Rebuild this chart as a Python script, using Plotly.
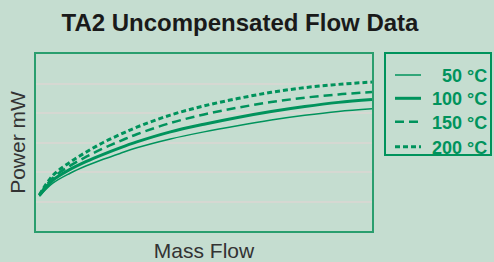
import plotly.graph_objects as go

# ---- data ----
mass_flow = [0.1, 0.5, 1, 1.5, 2, 2.5, 3, 4, 5, 6, 7, 8, 9, 10]
power_50 = [1.18, 1.62, 1.95, 2.21, 2.43, 2.63, 2.82, 3.12, 3.36, 3.57, 3.76, 3.92, 4.05, 4.14]
power_100 = [1.20, 1.72, 2.08, 2.36, 2.60, 2.82, 3.02, 3.36, 3.62, 3.85, 4.05, 4.22, 4.36, 4.46]
power_150 = [1.22, 1.80, 2.20, 2.52, 2.80, 3.05, 3.28, 3.66, 3.95, 4.18, 4.37, 4.52, 4.63, 4.71]
power_200 = [1.22, 1.88, 2.32, 2.68, 3.00, 3.27, 3.52, 3.93, 4.24, 4.49, 4.70, 4.86, 4.97, 5.05]
series_names = ["50 °C", "100 °C", "150 °C", "200 °C"]

GREEN = "#00935c"
BG = "#c5ddd0"
FONT = "Liberation Sans, Arial, sans-serif"

styles = [
    dict(width=1.5, dash="solid"),
    dict(width=3, dash="solid"),
    dict(width=2.5, dash="9px,5px"),
    dict(width=3, dash="5px,3px"),
]
values = [power_50, power_100, power_150, power_200]

fig = go.Figure()
for name, ys, st in zip(series_names, values, styles):
    fig.add_trace(go.Scatter(
        x=mass_flow, y=ys, name=name, mode="lines",
        line=dict(color=GREEN, width=st["width"], dash=st["dash"], shape="spline",
                  smoothing=1.0),
        showlegend=False,
    ))

W, H = 494, 262
L, R, T, B = 36, 372, 54, 231


def px(xp):
    return (xp - L) / (R - L)


def py(yp):
    return (B - yp) / (B - T)


shapes = []
annotations = []
# manual legend box
shapes.append(dict(type="rect", xref="paper", yref="paper",
                   x0=px(385), x1=px(491), y0=py(155), y1=py(53),
                   line=dict(color=GREEN, width=2), fillcolor="rgba(0,0,0,0)"))
row_y = [75, 98.3, 121.7, 146.7]
for name, st, yy in zip(series_names, styles, row_y):
    shapes.append(dict(type="line", xref="paper", yref="paper",
                       x0=px(395), x1=px(421), y0=py(yy), y1=py(yy),
                       line=dict(color=GREEN, width=st["width"], dash=st["dash"])))
    annotations.append(dict(xref="paper", yref="paper", x=px(489), y=py(yy + 1),
                            xanchor="right", yanchor="middle", showarrow=False,
                            text=f"<b>{name}</b>",
                            font=dict(family=FONT, size=18, color=GREEN)))

fig.update_layout(
    width=W, height=H,
    margin=dict(l=L, r=W - R, t=T, b=H - B, pad=0, autoexpand=False),
    paper_bgcolor=BG, plot_bgcolor=BG,
    title=dict(text="<b>TA2 Uncompensated Flow Data</b>", x=240 / W, xanchor="center",
               y=1 - 23 / H, yanchor="middle", yref="container",
               font=dict(family=FONT, size=24, color="#1a1a1a")),
    xaxis=dict(range=[0, 10], showgrid=False, zeroline=False, showticklabels=False,
               ticks="", showline=True, mirror=True, linecolor="#2a9e6e", linewidth=2,
               automargin=False,
               title=dict(text="Mass Flow", standoff=12,
                          font=dict(family=FONT, size=21, color="#333333"))),
    yaxis=dict(range=[0, 6], dtick=1, showgrid=True, gridcolor="#d6d8d2", gridwidth=1.5,
               zeroline=False, showticklabels=False, ticks="", automargin=False,
               showline=True, mirror=True, linecolor="#2a9e6e", linewidth=2,
               title=dict(text="Power mW", standoff=3,
                          font=dict(family=FONT, size=21, color="#333333"))),
    shapes=shapes,
    annotations=annotations,
)

fig.write_html("out.html", config={"displayModeBar": False},
               post_script="document.body.style.margin='0';document.body.style.padding='0';")
